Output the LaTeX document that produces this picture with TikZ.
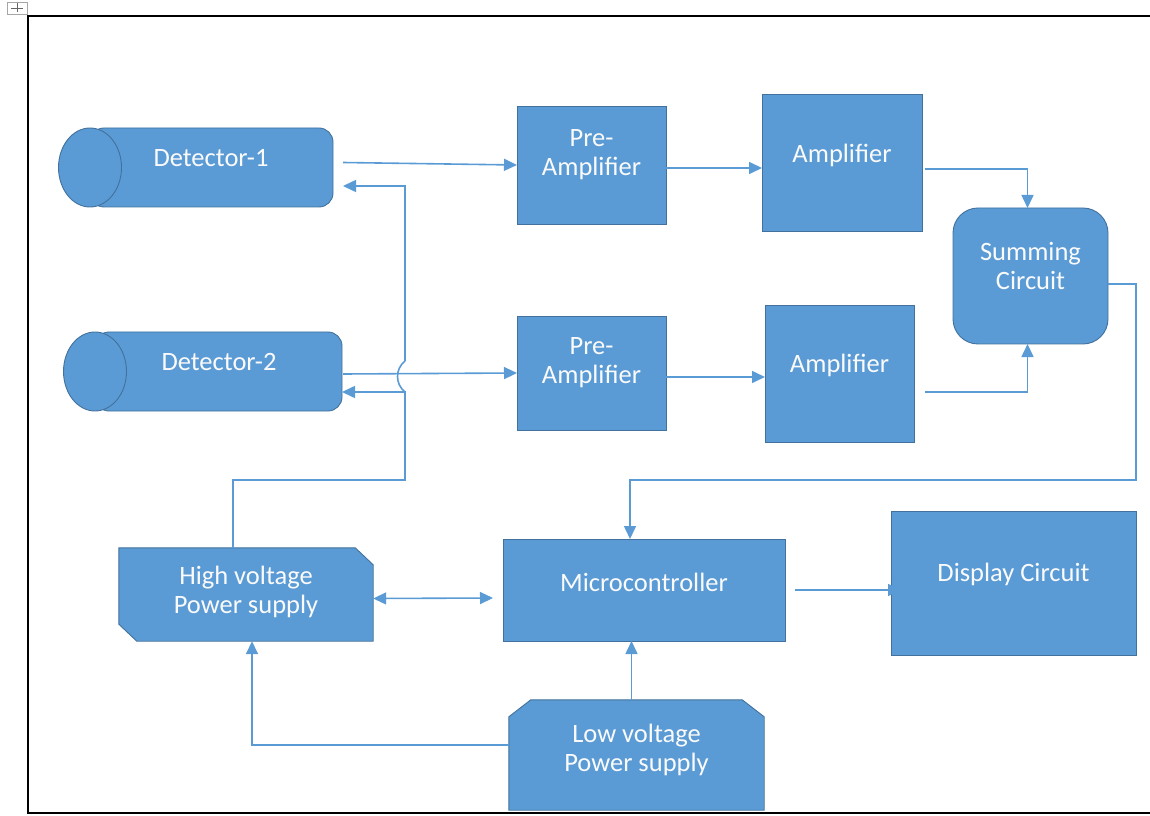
\documentclass[tikz,border=0pt]{standalone}
\usepackage{fontspec}
\setmainfont{Carlito}
\usetikzlibrary{arrows.meta,shapes.geometric}
\definecolor{boxblue}{HTML}{5B9BD5}
\definecolor{boxedge}{HTML}{41719C}
\tikzset{blk/.style={draw=boxedge, fill=boxblue, line width=0.9pt, inner sep=0, outer sep=0}}
\tikzset{txt/.style={text=white!96!gray, align=center, inner sep=0, font=\fontsize{26.5}{29}\selectfont}}
\tikzset{wire/.style={draw=boxblue, line width=1.6pt}}
\tikzset{arr/.style={wire, -{Triangle[length=13pt,width=12pt]}}}
\tikzset{dblarr/.style={wire, {Triangle[length=13pt,width=12pt]}-{Triangle[length=13pt,width=12pt]}}}

\begin{document}
\begin{tikzpicture}[x=1pt, y=1pt]
        \useasboundingbox (0,0) rectangle (1150,815);
        % page frame and table handle
        \draw[line width=1.6pt] (1150,799) -- (28,799) -- (28,2) -- (1150,2);
        \draw[gray!70, line width=0.6pt] (7,801) rectangle (27,813);
        \draw[gray!80!black, line width=0.8pt] (11,807) -- (23,807) (17,802.5) -- (17,811.5);

        % detectors
        \node[blk, rounded corners=14pt, minimum width=243pt, minimum height=79pt] (det1) at (211.5,647.5) {};
        \node[blk, ellipse, minimum width=63pt, minimum height=79pt] (det1cap) at (det1.west) {};
        \node[txt] (det1txt) at (211,657) {Detector-1};
        \node[blk, rounded corners=14pt, minimum width=247pt, minimum height=79pt] (det2) at (218.5,443.5) {};
        \node[blk, ellipse, minimum width=63pt, minimum height=79pt] (det2cap) at (det2.west) {};
        \node[txt] (det2txt) at (219,453) {Detector-2};

        % amplifier chain
        \node[blk, minimum width=149pt, minimum height=118pt] (pre1) at (591.5,650) {};
        \node[txt] (pre1txt) at (591.5,660) {Pre-\\Amplifier};
        \node[blk, minimum width=149pt, minimum height=114pt] (pre2) at (591.5,442) {};
        \node[txt] (pre2txt) at (591.5,452) {Pre-\\Amplifier};
        \node[blk, minimum width=160pt, minimum height=137pt] (amp1) at (842,652.5) {};
        \node[txt] (amp1txt) at (842,660) {Amplifier};
        \node[blk, minimum width=149pt, minimum height=137pt] (amp2) at (839.5,441.5) {};
        \node[txt] (amp2txt) at (839.5,450) {Amplifier};
        \node[blk, rounded corners=25pt, minimum width=155pt, minimum height=136pt] (sum) at (1030.5,539) {};
        \node[txt] (sumtxt) at (1030.5,549) {Summing\\Circuit};

        % control and display
        \node[blk, minimum width=282pt, minimum height=102pt] (micro) at (644,225) {};
        \node[txt] (microtxt) at (644,233) {Microcontroller};
        \node[blk, minimum width=245pt, minimum height=144pt] (disp) at (1013.5,232) {};
        \node[txt] (disptxt) at (1013.5,241) {Display Circuit};

        % power supplies
        \node[minimum width=254pt, minimum height=93pt, inner sep=0] (hv) at (246,220.5) {};
        \path[blk] (hv.north west) -- ([xshift=-18pt]hv.north east) -- ([yshift=-17pt]hv.north east)
            -- (hv.south east) -- ([xshift=18pt]hv.south west) -- ([yshift=17pt]hv.south west) -- cycle;
        \node[txt] (hvtxt) at (246,223) {High voltage\\Power supply};
        \node[minimum width=255pt, minimum height=110pt, inner sep=0] (lv) at (636.5,60) {};
        \path[blk] (lv.south west) -- ([yshift=-17pt]lv.north west) -- ([xshift=22pt]lv.north west)
            -- ([xshift=-22pt]lv.north east) -- ([yshift=-17pt]lv.north east) -- (lv.south east) -- cycle;
        \node[txt] (lvtxt) at (636.5,65) {Low voltage\\Power supply};

        % bends
        \coordinate (sumbus) at (630,335);
        \coordinate (hvbus) at (405,335);
        \coordinate (hopbot) at (405,423);
        \coordinate (hoptop) at (405,454);

        % signal path
        \draw[arr] ([shift={(10pt,5pt)}]det1.east) -- (pre1.west);
        \draw[arr] ([yshift=-3pt]pre1.east) -- ([yshift=-3pt]pre1.east -| amp1.west);
        \draw[arr] ([shift={(3pt,-6.5pt)}]amp1.east) -| ([xshift=-3pt]sum.north);
        \draw[arr] ([shift={(1pt,-2.5pt)}]det2.east) -- (pre2.west);
        \draw[arr] ([yshift=-4pt]pre2.east) -- ([yshift=-4pt]pre2.east -| amp2.west);
        \draw[arr] ([shift={(11pt,-18.5pt)}]amp2.east) -| ([xshift=-3pt]sum.south);
        \draw[arr] ([yshift=-8pt]sum.east) -- ++(28,0) |- (sumbus) -- (sumbus |- micro.north);
        \draw[arr] ([xshift=10pt]micro.east) -- ([xshift=10pt]micro.east -| disp.west);
        \draw[dblarr] ([yshift=-4pt]hv.east) -- ([shift={(-10pt,-8pt)}]micro.west);

        % supply lines
        \draw[arr] ([xshift=-5pt]lv.north) -- ([xshift=-5pt]lv.north |- micro.south);
        \draw[arr] ([yshift=10pt]lv.west) -| ([xshift=6pt]hv.south);
        \draw[arr] ([xshift=-13pt]hv.north) |- (hvbus) -- (hopbot) -- (hopbot -| det2.east);
        \draw[wire] (hopbot) .. controls (395,431) and (395,446) .. (hoptop);
        \draw[arr] (hoptop) |- ([shift={(10pt,-18.5pt)}]det1.east);
\end{tikzpicture}
\end{document}
